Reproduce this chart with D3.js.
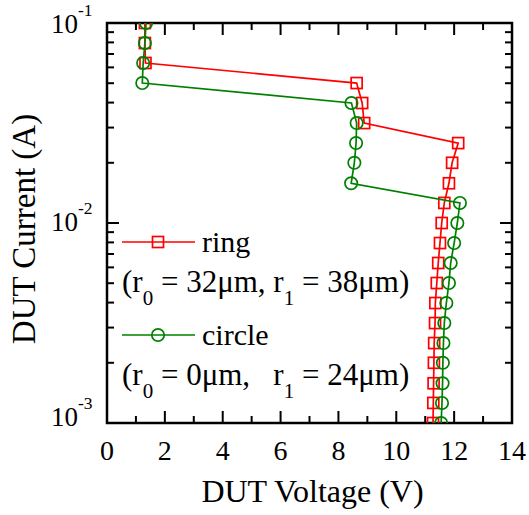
<!DOCTYPE html>
<html>
<head>
<meta charset="utf-8">
<script src="https://cdn.jsdelivr.net/npm/d3@7"></script>
<style>
  html, body { margin: 0; padding: 0; background: #fff; }
  svg { display: block; font-family: "Liberation Serif", "Times New Roman", serif; }
  text { white-space: pre; }
</style>
</head>
<body>
<svg id="chart" width="529" height="515"></svg>
<script>
// Current sweep points (A), shared by both devices
const currentSteps = [0.001, 0.00126, 0.00158, 0.002, 0.00251, 0.00316, 0.00398, 0.00501,
  0.00631, 0.00794, 0.01, 0.0126, 0.0158, 0.02, 0.0251, 0.0316, 0.0398, 0.0501, 0.0631, 0.0794, 0.1];

// Measured DUT voltage (V) at each current step
const ringVoltage = [11.27, 11.28, 11.29, 11.30, 11.31, 11.34, 11.35, 11.40, 11.45, 11.51,
  11.57, 11.66, 11.82, 11.93, 12.14, 8.89, 8.82, 8.63, 1.33, 1.31, 1.31];
const circleVoltage = [11.55, 11.58, 11.60, 11.61, 11.63, 11.66, 11.73, 11.82, 11.88, 12.00,
  12.11, 12.20, 8.44, 8.55, 8.61, 8.63, 8.45, 1.22, 1.25, 1.31, 1.35];

const seriesNames = ["ring", "circle"];
const seriesColors = ["#ff0000", "#008000"];
const seriesNotes = [
  { r0: "0", v0: "32", r1: "1", v1: "38", gap: " " },
  { r0: "0", v0: "0", r1: "1", v1: "24", gap: "   " }
];

const xTicks = [0, 2, 4, 6, 8, 10, 12, 14];
const yDecades = [-3, -2, -1];

const svg = d3.select("#chart");
const m = { left: 107, top: 23, right: 17, bottom: 92 };
const W = 529, H = 515;
const x = d3.scaleLinear().domain([0, 14]).range([m.left, W - m.right]);
const y = d3.scaleLog().domain([1e-3, 1e-1]).range([H - m.bottom, m.top]);
const x0 = x.range()[0], x1 = x.range()[1], y0 = y.range()[0], y1 = y.range()[1];

// clip region for the plotted data
svg.append("clipPath").attr("id", "plotClip")
  .append("rect").attr("x", x0).attr("y", y1).attr("width", x1 - x0).attr("height", y0 - y1);

// tick marks on all four sides, pointing inward
const ticks = svg.append("g").attr("stroke", "#000").attr("stroke-width", 2);
const majorLen = 12, minorLen = 7;
d3.range(0, 15, 1).forEach(v => {
  const len = v % 2 === 0 ? majorLen : minorLen;
  ticks.append("line").attr("x1", x(v)).attr("x2", x(v)).attr("y1", y0).attr("y2", y0 - len);
  ticks.append("line").attr("x1", x(v)).attr("x2", x(v)).attr("y1", y1).attr("y2", y1 + len);
});
const yMinor = [];
[-3, -2].forEach(d => { for (let k = 2; k <= 9; k++) yMinor.push(k * Math.pow(10, d)); });
yMinor.forEach(v => {
  ticks.append("line").attr("x1", x0).attr("x2", x0 + minorLen).attr("y1", y(v)).attr("y2", y(v));
  ticks.append("line").attr("x1", x1).attr("x2", x1 - minorLen).attr("y1", y(v)).attr("y2", y(v));
});
yDecades.forEach(d => {
  const v = Math.pow(10, d);
  ticks.append("line").attr("x1", x0).attr("x2", x0 + majorLen).attr("y1", y(v)).attr("y2", y(v));
  ticks.append("line").attr("x1", x1).attr("x2", x1 - majorLen).attr("y1", y(v)).attr("y2", y(v));
});

// frame
svg.append("rect").attr("x", x0).attr("y", y1).attr("width", x1 - x0).attr("height", y0 - y1)
  .attr("fill", "none").attr("stroke", "#000").attr("stroke-width", 2.5);

// x tick labels
svg.append("g").selectAll("text").data(xTicks).join("text")
  .attr("x", d => x(d)).attr("y", 460).attr("text-anchor", "middle")
  .attr("font-size", 28).text(d => d);

// y tick labels (10^n); the lowest one sits a little higher to clear the x labels
const labelBase = d => y(Math.pow(10, d)) + (d === -3 ? 3 : d === -2 ? 8 : 10);
svg.append("g").selectAll("text").data(yDecades).join("text")
  .attr("x", 78).attr("y", labelBase).attr("text-anchor", "end")
  .attr("font-size", 27).text("10");
svg.append("g").selectAll("text").data(yDecades).join("text")
  .attr("x", 78).attr("y", d => labelBase(d) - 17).attr("text-anchor", "start")
  .attr("font-size", 17.5).text(d => "-" + Math.abs(d));

// axis titles
svg.append("text").attr("x", (x0 + x1) / 2 + 3).attr("y", 502).attr("text-anchor", "middle")
  .attr("font-size", 32).text("DUT Voltage (V)");
svg.append("text").attr("transform", `translate(35,${(y0 + y1) / 2 + 6}) rotate(-90)`)
  .attr("text-anchor", "middle").attr("font-size", 33).text("DUT Current (A)");

// data series
const series = [ringVoltage, circleVoltage].map((vs, i) =>
  vs.map((v, j) => ({ v, c: currentSteps[j], i })));
const line = d3.line().x(d => x(d.v)).y(d => y(d.c));
const plot = svg.append("g").attr("clip-path", "url(#plotClip)");

function marker(g, i, cx, cy) {
  if (i === 0) {
    g.append("rect").attr("x", cx - 5.5).attr("y", cy - 5.5).attr("width", 11).attr("height", 11)
      .attr("fill", "none").attr("stroke", seriesColors[i]).attr("stroke-width", 1.7);
  } else {
    g.append("circle").attr("cx", cx).attr("cy", cy).attr("r", 6.2)
      .attr("fill", "none").attr("stroke", seriesColors[i]).attr("stroke-width", 1.7);
  }
}

series.forEach((pts, i) => {
  plot.append("path").datum(pts).attr("d", line).attr("fill", "none")
    .attr("stroke", seriesColors[i]).attr("stroke-width", 1.7);
  const mg = plot.append("g");
  pts.forEach(p => marker(mg, i, x(p.v), y(p.c)));
});

// legend
const legendRows = [242, 335];
const legend = svg.append("g");
seriesNames.forEach((name, i) => {
  const ly = legendRows[i];
  legend.append("line").attr("x1", 122).attr("x2", 195).attr("y1", ly).attr("y2", ly)
    .attr("stroke", seriesColors[i]).attr("stroke-width", 1.7);
  marker(legend, i, 158, ly);
  legend.append("text").attr("x", 202).attr("y", ly + 10).attr("font-size", 30).text(name);
  const n = seriesNotes[i];
  const t = legend.append("text").attr("x", 122).attr("y", ly + 50).attr("font-size", 31);
  t.append("tspan").text("(r");
  t.append("tspan").attr("font-size", 21).attr("dy", 13).text(n.r0);
  t.append("tspan").attr("dy", -13).text(` = ${n.v0}μm,${n.gap}r`);
  t.append("tspan").attr("font-size", 21).attr("dy", 13).text(n.r1);
  t.append("tspan").attr("dy", -13).text(` = ${n.v1}μm)`);
});
</script>
</body>
</html>
